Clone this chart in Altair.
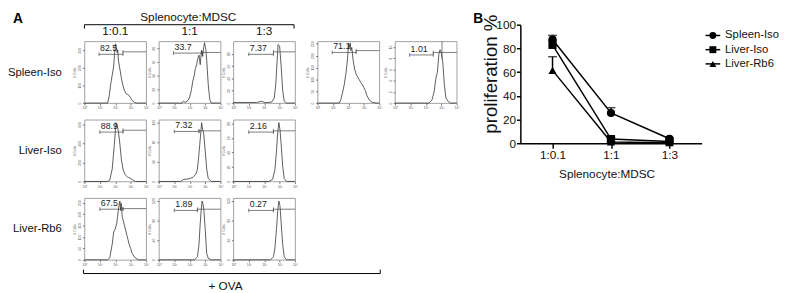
import altair as alt
import pandas as pd

FONT = "Liberation Sans"

# ---------------- Panel A: flow histograms (x = log10 intensity, y = # cells) ----------------
ROW_LABELS = ["Spleen-Iso", "Liver-Iso", "Liver-Rb6"]
COL_LABELS = ["1:0.1", "1:1", "1:3"]
TOP_TITLE = "Splenocyte:MDSC"
BOTTOM_TITLE = "+ OVA"
X_TICKS = [0, 1, 2, 3, 4]

R1C1_X = [0, 1.0, 1.5, 1.6, 1.7, 1.8, 1.9, 1.95, 2.02, 2.08, 2.12, 2.16, 2.2, 2.3, 2.4, 2.5, 2.6, 2.7, 2.8, 2.9, 3.0, 3.1, 3.25, 3.4, 4.0]
R1C1_Y = [0, 0, 0, 35, 105, 158, 210, 280, 336, 315, 287, 301, 245, 193, 140, 98, 70, 53, 49, 42, 28, 14, 4, 0, 0]
R1C2_X = [0, 1.5, 1.6, 1.7, 1.9, 2.0, 2.1, 2.2, 2.3, 2.36, 2.45, 2.5, 2.6, 2.68, 2.76, 2.84, 2.9, 2.96, 3.05, 3.1, 3.2, 3.3, 3.4, 4.0]
R1C2_Y = [0, 0, 3, 1, 4, 9, 18, 32, 41, 50, 56, 63, 70, 56, 77, 68, 81, 88, 77, 63, 27, 5, 0, 0]
R1C3_X = [0, 1.0, 1.5, 1.85, 2.0, 2.3, 2.5, 2.65, 2.75, 2.82, 2.9, 3.0, 3.1, 3.2, 3.3, 3.45, 4.0]
R1C3_Y = [1, 1, 1, 3, 1, 1, 2, 8, 30, 60, 95, 92, 60, 20, 3, 0, 0]
R1C4_X = [0, 1.4, 1.5, 1.6, 1.73, 1.85, 1.95, 2.02, 2.08, 2.12, 2.16, 2.22, 2.3, 2.4, 2.5, 2.6, 2.7, 2.8, 2.9, 3.0, 3.1, 3.2, 3.35, 3.55, 3.8, 4.0]
R1C4_Y = [0, 0, 13, 39, 78, 130, 195, 252, 234, 252, 221, 234, 182, 143, 122, 109, 99, 86, 78, 65, 52, 31, 13, 3, 0, 0]
R1C5_X = [0, 2.2, 2.4, 2.55, 2.65, 2.75, 2.85, 2.92, 3.0, 3.1, 3.2, 3.3, 3.45, 3.6, 4.0]
R1C5_Y = [0, 0, 0.55, 2.2, 4.4, 5.5, 8.8, 9.5, 9.0, 7.2, 3.3, 0.9, 0.3, 0, 0]
R2C1_X = [0, 1.5, 1.64, 1.8, 1.94, 2.0, 2.05, 2.12, 2.2, 2.3, 2.4, 2.5, 2.6, 2.67, 2.8, 2.9, 3.1, 3.3, 4.0]
R2C1_Y = [0, 0, 13, 130, 390, 520, 618, 585, 533, 390, 228, 130, 85, 65, 46, 39, 20, 0, 0]
R2C2_X = [0, 1.4, 1.6, 1.9, 2.2, 2.4, 2.5, 2.58, 2.65, 2.72, 2.77, 2.83, 2.9, 3.0, 3.1, 3.2, 3.4, 4.0]
R2C2_Y = [0, 0, 4, 5, 8, 15, 25, 50, 75, 100, 119, 106, 98, 63, 25, 6, 0, 0]
R2C3_X = [0, 2.3, 2.55, 2.7, 2.8, 2.88, 2.95, 3.02, 3.1, 3.2, 3.3, 3.45, 4.0]
R2C3_Y = [0, 0, 3, 17, 43, 68, 81, 72, 51, 21, 4, 0, 0]
R3C1_X = [0, 1.5, 1.64, 1.8, 1.9, 2.0, 2.1, 2.15, 2.22, 2.3, 2.34, 2.38, 2.45, 2.5, 2.6, 2.75, 2.9, 3.0, 3.1, 3.3, 3.5, 4.0]
R3C1_Y = [0, 0, 8, 68, 122, 135, 162, 189, 230, 257, 216, 248, 189, 176, 149, 108, 68, 49, 27, 8, 0, 0]
R3C2_X = [0, 2.3, 2.5, 2.6, 2.67, 2.74, 2.8, 2.86, 2.92, 3.0, 3.1, 3.2, 3.4, 4.0]
R3C2_Y = [0, 0, 6, 31, 69, 100, 119, 113, 100, 63, 13, 3, 0, 0]
R3C3_X = [0, 2.4, 2.6, 2.7, 2.8, 2.88, 2.95, 3.02, 3.1, 3.2, 3.3, 3.45, 4.0]
R3C3_Y = [0, 0, 6, 25, 63, 100, 119, 110, 75, 31, 6, 0, 0]

# gate: (left start, split, left level frac, right level frac), label
HIST = {
    "R1C1": dict(x=R1C1_X, y=R1C1_Y, ymax=350, ticks=[0, 100, 200, 300], gate=(0.95, 2.5, 0.79, 0.83), label="82.5", vline=None),
    "R1C2": dict(x=R1C2_X, y=R1C2_Y, ymax=90, ticks=[0, 20, 40, 60, 80], gate=(0.95, 2.8, 0.81, 0.82), label="33.7", vline=None),
    "R1C3": dict(x=R1C3_X, y=R1C3_Y, ymax=100, ticks=[0, 20, 40, 60, 80], gate=(1.0, 2.6, 0.79, 0.83), label="7.37", vline=None),
    "R1C4": dict(x=R1C4_X, y=R1C4_Y, ymax=260, ticks=[0, 50, 100, 150, 200, 250], gate=(0.95, 2.5, 0.82, 0.85), label="71.1", vline=None),
    "R1C5": dict(x=R1C5_X, y=R1C5_Y, ymax=11, ticks=[0, 2, 4, 6, 8, 10], gate=(0.95, 2.48, 0.78, 0.82), label="1.01", vline=3.05),
    "R2C1": dict(x=R2C1_X, y=R2C1_Y, ymax=650, ticks=[0, 200, 400, 600], gate=(1.0, 2.5, 0.80, 0.83), label="88.9", vline=None),
    "R2C2": dict(x=R2C2_X, y=R2C2_Y, ymax=125, ticks=[0, 40, 80, 120], gate=(1.0, 2.6, 0.81, 0.82), label="7.32", vline=None),
    "R2C3": dict(x=R2C3_X, y=R2C3_Y, ymax=85, ticks=[0, 20, 40, 60, 80], gate=(1.0, 2.6, 0.80, 0.82), label="2.16", vline=None),
    "R3C1": dict(x=R3C1_X, y=R3C1_Y, ymax=270, ticks=[0, 50, 100, 150, 200, 250], gate=(1.0, 2.5, 0.82, 0.83), label="67.5", vline=None),
    "R3C2": dict(x=R3C2_X, y=R3C2_Y, ymax=125, ticks=[0, 40, 80, 120], gate=(1.0, 2.5, 0.80, 0.82), label="1.89", vline=None),
    "R3C3": dict(x=R3C3_X, y=R3C3_Y, ymax=125, ticks=[0, 40, 80, 120], gate=(1.0, 2.6, 0.80, 0.82), label="0.27", vline=None),
}

# ---------------- Panel B: proliferation ----------------
GROUPS = ["Spleen-Iso", "Liver-Iso", "Liver-Rb6"]
SHAPES = ["circle", "square", "triangle-up"]
RATIOS = ["1:0.1", "1:1", "1:3"]
SPLEEN_MEAN = [87.5, 25.5, 3.8]
SPLEEN_UP = [91.0, 30.0, 4.5]
LIVER_ISO_MEAN = [83.0, 3.5, 1.5]
LIVER_ISO_UP = [87.0, 4.5, 2.0]
LIVER_RB6_MEAN = [61.5, 1.0, 0.5]
LIVER_RB6_UP = [73.0, 1.5, 1.0]

HW, HH = 63, 63  # histogram panel size

dummy = pd.DataFrame({"a": [0]})
base0 = alt.Chart(dummy)


def hist_chart(key, title=None):
    h = HIST[key]
    ymax = h["ymax"]
    df = pd.DataFrame({"x": h["x"], "y": h["y"]})
    xs = alt.Scale(domain=[0, 4], nice=False, zero=False)
    ys = alt.Scale(domain=[0, ymax], nice=False)
    xaxis = alt.Axis(values=X_TICKS, labelExpr="['10⁰','10¹','10²','10³','10⁴'][datum.value]",
                     labelFontSize=3.5, tickSize=2, domain=False, grid=False, title=None,
                     labelPadding=1, tickColor="#777", labelColor="#555", labelFlush=False)
    yaxis = alt.Axis(values=h["ticks"], labelFontSize=3.5, tickSize=2, domain=False, grid=False,
                     title="# Cells", titleFontSize=3.5, titlePadding=1, labelPadding=1,
                     tickColor="#777", labelColor="#555", titleColor="#555", titleFontWeight="normal",
                     labelAngle=270, labelAlign="center", labelBaseline="bottom")
    X = alt.X("x:Q", scale=xs, axis=xaxis)
    Y = alt.Y("y:Q", scale=ys, axis=yaxis)
    line = alt.Chart(df).mark_line(color="#333", strokeWidth=0.8).encode(x=X, y=Y)
    x0, xsp, yl, yr = h["gate"]
    gd = pd.DataFrame({"x": [x0, xsp], "x2": [xsp, 4], "y": [yl * ymax, yr * ymax]})
    gates = alt.Chart(gd).mark_rule(color="#444", strokeWidth=0.7).encode(x=X, x2="x2:Q", y=Y)
    td = pd.DataFrame({"x": [x0, xsp, xsp],
                       "y": [(yl - 0.03) * ymax, (yl - 0.03) * ymax, (yr - 0.03) * ymax],
                       "y2": [(yl + 0.03) * ymax, (yl + 0.03) * ymax, (yr + 0.03) * ymax]})
    ticks = alt.Chart(td).mark_rule(color="#444", strokeWidth=0.7).encode(x=X, y=Y, y2="y2:Q")
    ld = pd.DataFrame({"x": [x0], "y": [(yl + 0.02) * ymax], "t": [h["label"]]})
    text = alt.Chart(ld).mark_text(align="left", baseline="bottom", fontSize=9, dx=1, color="#222").encode(
        x=X, y=Y, text="t:N")
    layers = [line, gates, ticks, text]
    if h["vline"] is not None:
        vd = pd.DataFrame({"x": [h["vline"]], "y": [0.72 * ymax], "y2": [ymax]})
        layers.append(alt.Chart(vd).mark_rule(color="#444", strokeWidth=0.7).encode(x=X, y=Y, y2="y2:Q"))
    ch = alt.layer(*layers).properties(width=HW, height=HH,
                                       view=alt.ViewBackground(stroke="#888", strokeWidth=0.8))
    if title is not None:
        ch = ch.properties(title=alt.TitleParams(title, fontSize=12, fontWeight="normal", offset=3, color="#111"))
    return ch


def blank(w, h):
    return base0.mark_point(opacity=0, size=0).encode(x=alt.value(0), y=alt.value(0)).properties(width=w, height=h)


COL_W = [73, HW, 13, HW, 13, HW, 23, HW, 16, HW]
ROW_H = [30, HH, 17, HH, 17, HH, 40]
HIST_COL = {1: 0, 3: 1, 5: 2, 7: 3, 9: 4}   # grid column -> histogram column index
HIST_ROW = {1: 0, 3: 1, 5: 2}               # grid row -> histogram row index

header = alt.layer(
    base0.mark_text(fontSize=14, fontWeight="bold", align="left", baseline="top", color="black").encode(
        x=alt.value(0), y=alt.value(0), text=alt.value("A")),
    base0.mark_text(fontSize=12, align="center", baseline="top", color="#111").encode(
        x=alt.value(179), y=alt.value(0), text=alt.value(TOP_TITLE)),
    base0.mark_rule(strokeWidth=1, color="black").encode(x=alt.value(73), x2=alt.value(287), y=alt.value(13)),
    base0.mark_rule(strokeWidth=1, color="black").encode(x=alt.value(73), y=alt.value(13), y2=alt.value(17)),
    base0.mark_rule(strokeWidth=1, color="black").encode(x=alt.value(287), y=alt.value(13), y2=alt.value(17)),
).properties(width=COL_W[0], height=ROW_H[0])

footer = alt.layer(
    base0.mark_rule(strokeWidth=1, color="black").encode(x=alt.value(72), x2=alt.value(375), y=alt.value(14)),
    base0.mark_rule(strokeWidth=1, color="black").encode(x=alt.value(72), y=alt.value(10), y2=alt.value(14)),
    base0.mark_rule(strokeWidth=1, color="black").encode(x=alt.value(375), y=alt.value(10), y2=alt.value(14)),
    base0.mark_text(fontSize=12, align="center", baseline="middle", color="#111").encode(
        x=alt.value(217), y=alt.value(27), text=alt.value(BOTTOM_TITLE)),
).properties(width=COL_W[0], height=ROW_H[6])

cells = []
for gr, rh in enumerate(ROW_H):
    for gc, cw in enumerate(COL_W):
        cell = None
        if gr == 0 and gc == 0:
            cell = header
        elif gr == 6 and gc == 0:
            cell = footer
        elif gr in HIST_ROW and gc == 0:
            name = ROW_LABELS[HIST_ROW[gr]]
            cell = alt.Chart(pd.DataFrame({"t": [name]})).mark_text(
                align="right", baseline="middle", fontSize=11.5, color="#111").encode(
                text="t:N", x=alt.value(50), y=alt.value(32)).properties(width=cw, height=rh)
        elif gr in HIST_ROW and gc in HIST_COL:
            ri, ci = HIST_ROW[gr], HIST_COL[gc]
            if ri == 0 or ci < 3:
                cell = hist_chart(f"R{ri+1}C{ci+1}", COL_LABELS[ci] if (ri == 0 and ci < 3) else None)
        if cell is None:
            cell = blank(cw, rh)
        cells.append(cell)

panelA = alt.concat(*cells, columns=len(COL_W), spacing=0, bounds="flush")

# ---- Panel B ----
recs = []
for g, m, u in [(GROUPS[0], SPLEEN_MEAN, SPLEEN_UP), (GROUPS[1], LIVER_ISO_MEAN, LIVER_ISO_UP),
                (GROUPS[2], LIVER_RB6_MEAN, LIVER_RB6_UP)]:
    for rt, mv, uv in zip(RATIOS, m, u):
        recs.append({"group": g, "ratio": rt, "mean": mv, "upper": uv})
bdf = pd.DataFrame(recs)

BX = alt.X("ratio:N", sort=RATIOS, scale=alt.Scale(type="point", padding=0.55),
           axis=alt.Axis(title=TOP_TITLE, labelAngle=0, labelFontSize=12, titleFontSize=12,
                         titleFontWeight="normal", tickSize=5, tickWidth=1.5, domainWidth=1.5,
                         domainColor="black", tickColor="black", labelColor="#111", titleColor="#111",
                         labelPadding=2, titleY=31, titleBaseline="middle", titleX=88, grid=False))
BY_SCALE = alt.Scale(domain=[0, 100], nice=False)
BY_AXIS = alt.Axis(values=[0, 20, 40, 60, 80, 100], title="proliferation %", titleFontSize=19,
                   titleFontWeight="normal", titleX=-30, titleY=50, titleAngle=270,
                   titleAlign="center", titleBaseline="middle", labelFontSize=12, tickSize=4,
                   tickWidth=1.5, labelPadding=1, grid=False, domainWidth=1.5, domainColor="black",
                   tickColor="black", labelColor="#111", titleColor="#111")
BY = alt.Y("mean:Q", scale=BY_SCALE, axis=BY_AXIS)
SHAPE_SCALE = alt.Scale(domain=GROUPS, range=SHAPES)

bbase = alt.Chart(bdf)
blines = bbase.mark_line(color="black", strokeWidth=1.5).encode(x=BX, y=BY, detail="group:N")
brules = bbase.mark_rule(color="black", strokeWidth=1.5).encode(x=BX, y=BY, y2="upper:Q")
bcaps = bbase.mark_tick(color="black", thickness=1.5, size=9).encode(
    x=BX, y=alt.Y("upper:Q", axis=BY_AXIS, scale=BY_SCALE))
bpoints = bbase.mark_point(filled=True, size=70, opacity=1, color="black").encode(
    x=BX, y=BY, shape=alt.Shape("group:N", scale=SHAPE_SCALE, legend=None))
bplot = alt.layer(blines, brules, bcaps, bpoints).properties(width=185, height=121)

# legend drawn as its own small chart: one row per group on a point scale
ldf = pd.DataFrame({"group": GROUPS})
LY = alt.Y("group:N", sort=GROUPS, scale=alt.Scale(type="point", range=[11, 40], padding=0), axis=None)
lbase = alt.Chart(ldf)
legend = alt.layer(
    lbase.mark_rule(color="black", strokeWidth=1.5).encode(x=alt.value(4), x2=alt.value(19), y=LY),
    lbase.mark_point(filled=True, size=50, opacity=1, color="black").encode(
        x=alt.value(11.5), y=LY, shape=alt.Shape("group:N", scale=SHAPE_SCALE, legend=None)),
    lbase.mark_text(align="left", baseline="middle", fontSize=11.5, color="#111").encode(
        x=alt.value(24), y=LY, text="group:N"),
).properties(width=75, height=121)

bhdr = base0.mark_text(fontSize=14, fontWeight="bold", align="left", baseline="top", color="black").encode(
    x=alt.value(-48), y=alt.value(0), text=alt.value("B")).properties(width=185, height=13)
panelB = alt.concat(bhdr, blank(75, 13), bplot, legend, columns=2, spacing=0, bounds="flush")

chart = alt.hconcat(panelA, panelB, spacing=13).properties(padding=0).configure(
    font=FONT).configure_view(stroke=None)

chart.save("out.html", embed_options={"renderer": "svg", "actions": False})
